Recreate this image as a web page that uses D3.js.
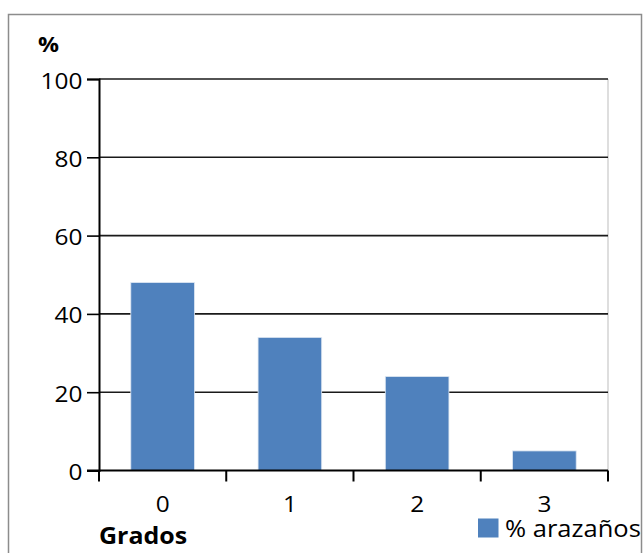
<!DOCTYPE html>
<html>
<head>
<meta charset="utf-8">
<script src="https://cdn.jsdelivr.net/npm/d3@7"></script>
<style>
  html, body { margin: 0; padding: 0; background: #fff; }
  svg { display: block; font-family: "Open Sans", "DejaVu Sans", sans-serif; }
</style>
</head>
<body>
<svg id="chart" width="643" height="553"></svg>
<script>
// Porcentaje de arazaños por grado
const categories = ["0", "1", "2", "3"];
const values = [48, 34, 24, 5];
const yTicks = [0, 20, 40, 60, 80, 100];
const seriesName = "% arazaños";

const svg = d3.select("#chart");
const SX = 1.11; // horizontal stretch applied to all labels

// places a label at (x, y) with a slight horizontal stretch
function label(parent, x, y, txt, opts) {
  const t = parent.append("text")
    .attr("transform", `translate(${x},${y}) scale(${SX},1)`)
    .attr("font-size", opts.size)
    .attr("font-weight", opts.weight || "normal")
    .attr("text-anchor", opts.anchor || "start")
    .attr("fill", "#000")
    .text(txt);
  return t;
}

// outer chart frame
svg.append("rect")
  .attr("x", 8.5).attr("y", 14.5)
  .attr("width", 633).attr("height", 560)
  .attr("fill", "#fff").attr("stroke", "#8c8c8c").attr("stroke-width", 1.5);

const plot = { left: 99, right: 608, top: 79, bottom: 470.5 };

const x = d3.scaleBand()
  .domain(categories)
  .range([plot.left, plot.right])
  .paddingInner(0.5)
  .paddingOuter(0.25);

const y = d3.scaleLinear()
  .domain([0, 100])
  .range([plot.bottom, plot.top]);

// plot area right edge
svg.append("line")
  .attr("x1", plot.right).attr("x2", plot.right)
  .attr("y1", plot.top).attr("y2", plot.bottom)
  .attr("stroke", "#bdbdbd").attr("stroke-width", 1);

// horizontal gridlines
svg.append("g")
  .selectAll("line")
  .data(yTicks.filter(d => d > 0))
  .join("line")
  .attr("x1", plot.left).attr("x2", plot.right)
  .attr("y1", d => y(d)).attr("y2", d => y(d))
  .attr("stroke", "#1a1a1a").attr("stroke-width", 1.6);

// bars
svg.append("g")
  .selectAll("rect")
  .data(values)
  .join("rect")
  .attr("x", (d, i) => x(categories[i]))
  .attr("y", d => y(d))
  .attr("width", x.bandwidth())
  .attr("height", d => y(0) - y(d))
  .attr("fill", "#4f81bd")
  .attr("stroke", "#dce6f2").attr("stroke-width", 0.8);

// y axis
const yAxis = d3.axisLeft(y)
  .tickValues(yTicks)
  .tickSize(12)
  .tickFormat(() => "");
const gy = svg.append("g")
  .attr("transform", `translate(${plot.left},0)`)
  .call(yAxis);
gy.select(".domain").attr("stroke", "#000").attr("stroke-width", 2);
gy.selectAll(".tick line").attr("stroke", "#000").attr("stroke-width", 1.6);
gy.selectAll(".tick text").remove();
const yLabels = svg.append("g");
yTicks.forEach(v => {
  label(yLabels, plot.left - 16.5, y(v) + 9.5, d3.format("d")(v), { size: 22, anchor: "end" });
});

// x axis: ticks at band boundaries, labels centred in bands
const gx = svg.append("g")
  .attr("transform", `translate(0,${plot.bottom})`);
gx.append("line")
  .attr("x1", plot.left - 12).attr("x2", plot.right)
  .attr("y1", 0).attr("y2", 0)
  .attr("stroke", "#000").attr("stroke-width", 2);
const boundaries = categories.map(c => x(c) - x.step() * x.paddingInner() / 2);
boundaries[0] = plot.left;
boundaries.push(plot.right);
gx.selectAll("line.tk")
  .data(boundaries)
  .join("line")
  .attr("class", "tk")
  .attr("x1", d => d).attr("x2", d => d)
  .attr("y1", 0).attr("y2", 11)
  .attr("stroke", "#000").attr("stroke-width", 2);
categories.forEach(c => {
  label(gx, x(c) + x.bandwidth() / 2, 41, c, { size: 22, anchor: "middle" });
});

// axis titles
label(svg, 38, 52, "%", { size: 21, weight: "bold" });
label(svg, 99, 544, "Grados", { size: 22.5, weight: "bold" });

// legend
const lg = svg.append("g").attr("transform", "translate(478,518.5)");
lg.append("rect")
  .attr("width", 20.5).attr("height", 19)
  .attr("fill", "#4f81bd");
label(lg, 27, 18.5, seriesName, { size: 23 });
</script>
</body>
</html>
